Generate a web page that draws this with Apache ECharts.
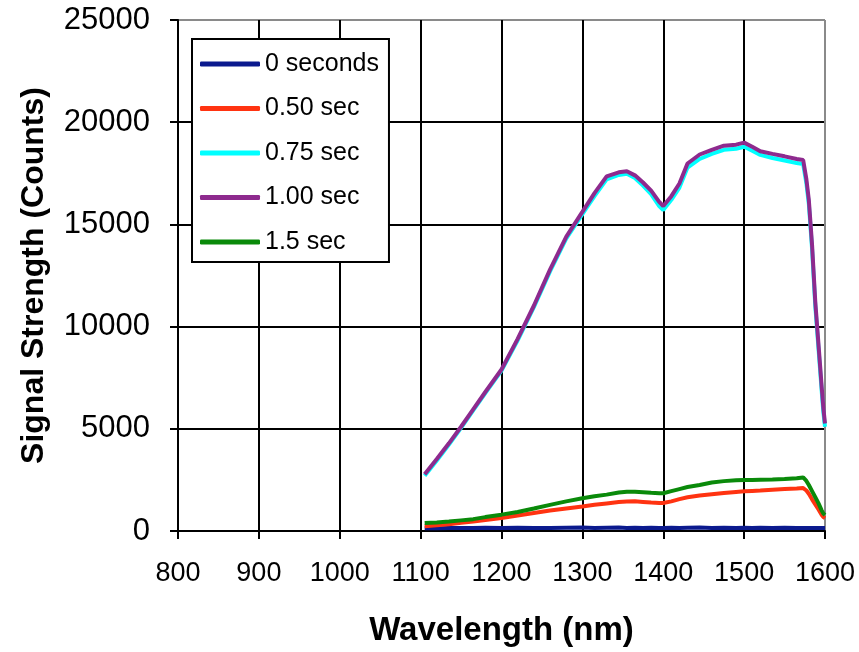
<!DOCTYPE html>
<html>
<head>
<meta charset="utf-8">
<script src="https://cdn.jsdelivr.net/npm/echarts@6/dist/echarts.min.js"></script>
<style>
  html, body { margin: 0; padding: 0; background: #fff; }
  #chart { width: 859px; height: 652px; }
</style>
</head>
<body>
<div id="chart"></div>
<script>
// wavelength samples (nm), shared by all series
const wavelength = [1105, 1120, 1135, 1150, 1165, 1180, 1200, 1220, 1240, 1260, 1280, 1300, 1315, 1330, 1345, 1355, 1365, 1375, 1385, 1395, 1400, 1410, 1420, 1430, 1445, 1460, 1475, 1490, 1500, 1510, 1520, 1535, 1550, 1565, 1573, 1577, 1580, 1584, 1588, 1592, 1596, 1598, 1600]

const sec0 = [130, 140, 150, 150, 150, 160, 150, 160, 150, 150, 160, 170, 150, 160, 170, 150, 160, 150, 160, 150, 150, 160, 150, 160, 170, 150, 160, 150, 160, 150, 160, 150, 160, 150, 150, 150, 150, 150, 150, 150, 150, 150, 150]
const sec050 = [230, 280, 330, 400, 460, 540, 640, 760, 880, 1000, 1100, 1200, 1280, 1350, 1420, 1440, 1450, 1420, 1390, 1370, 1370, 1450, 1560, 1650, 1740, 1800, 1860, 1910, 1940, 1960, 1980, 2020, 2050, 2080, 2100, 1980, 1820, 1550, 1300, 1050, 780, 680, 630]
const sec075 = [2700, 3450, 4230, 5050, 5900, 6750, 7850, 9330, 10950, 12700, 14300, 15500, 16380, 17200, 17420, 17480, 17270, 16900, 16480, 15900, 15700, 16200, 16800, 17780, 18200, 18450, 18650, 18700, 18800, 18600, 18400, 18250, 18130, 18000, 17950, 17000, 16000, 13800, 11000, 8900, 6800, 5800, 5100]
const sec100 = [2780, 3520, 4290, 5100, 5950, 6800, 7900, 9400, 11020, 12790, 14390, 15610, 16530, 17350, 17550, 17600, 17400, 17050, 16650, 16100, 15900, 16380, 17000, 17980, 18420, 18650, 18850, 18900, 19000, 18800, 18580, 18450, 18330, 18200, 18150, 17200, 16200, 14000, 11200, 9100, 7000, 6000, 5260]
const sec150 = [390, 420, 460, 520, 580, 680, 800, 930, 1100, 1280, 1450, 1600, 1700, 1780, 1880, 1920, 1920, 1900, 1870, 1850, 1850, 1950, 2050, 2150, 2250, 2370, 2440, 2480, 2500, 2500, 2510, 2520, 2540, 2580, 2620, 2450, 2250, 1950, 1650, 1350, 1000, 850, 780]

const seriesNames = ['0 seconds', '0.50 sec', '0.75 sec', '1.00 sec', '1.5 sec']
const seriesValues = [sec0, sec050, sec075, sec100, sec150]
const seriesColors = ['#0b1a8e', '#ff3311', '#00ffff', '#8e2a8e', '#0a8a0a']

const chart = echarts.init(document.getElementById('chart'))

const series = seriesNames.map((name, i) => ({
  name,
  type: 'line',
  data: wavelength.map((w, j) => [w, seriesValues[i][j]]),
  symbol: 'none',
  lineStyle: { color: seriesColors[i], width: 4 },
  itemStyle: { color: seriesColors[i] },
  z: 2 + i,
}))

const plainNumber = (v) => String(v)

const option = {
  backgroundColor: '#fff',
  animation: false,
  grid: { left: 178, right: 34, top: 20, bottom: 119 },
  legend: {
    orient: 'vertical',
    left: 192,
    top: 39,
    icon: 'roundRect',
    itemWidth: 60,
    itemHeight: 5,
    itemGap: 10.5,
    padding: [8, 10, 3, 8],
    backgroundColor: '#fff',
    borderColor: '#000',
    borderWidth: 2,
    textStyle: {
      fontFamily: 'Liberation Sans',
      fontSize: 25,
      color: '#000',
      lineHeight: 34,
    },
    data: seriesNames,
  },
  xAxis: {
    type: 'value',
    min: 800,
    max: 1600,
    interval: 100,
    name: 'Wavelength (nm)',
    nameLocation: 'middle',
    nameGap: 83,
    nameTextStyle: {
      fontFamily: 'Liberation Sans',
      fontWeight: 'bold',
      fontSize: 33,
      color: '#000',
    },
    axisLine: { lineStyle: { color: '#000', width: 2 } },
    axisTick: { length: 8, lineStyle: { color: '#000', width: 2 } },
    axisLabel: {
      margin: 29,
      fontFamily: 'Liberation Sans',
      fontSize: 27,
      color: '#000',
      formatter: plainNumber,
    },
    splitLine: {
      show: true,
      lineStyle: {
        color: ['#000', '#000', '#000', '#000', '#000', '#000', '#000', '#000', '#8a8a8a'],
        width: 2,
      },
    },
  },
  yAxis: {
    type: 'value',
    min: 0,
    max: 25000,
    interval: 5000,
    name: 'Signal Strength (Counts)',
    nameLocation: 'middle',
    nameGap: 128,
    nameTextStyle: {
      fontFamily: 'Liberation Sans',
      fontWeight: 'bold',
      fontSize: 32,
      color: '#000',
    },
    axisLine: { show: true, lineStyle: { color: '#000', width: 2 } },
    axisTick: { show: true, length: 8, lineStyle: { color: '#000', width: 2 } },
    axisLabel: {
      margin: 28,
      fontFamily: 'Liberation Sans',
      fontSize: 31,
      color: '#000',
      formatter: plainNumber,
    },
    splitLine: {
      show: true,
      lineStyle: {
        color: ['#000', '#000', '#000', '#000', '#000', '#8a8a8a'],
        width: 2,
      },
    },
  },
  series,
}

chart.setOption(option)
</script>
</body>
</html>
